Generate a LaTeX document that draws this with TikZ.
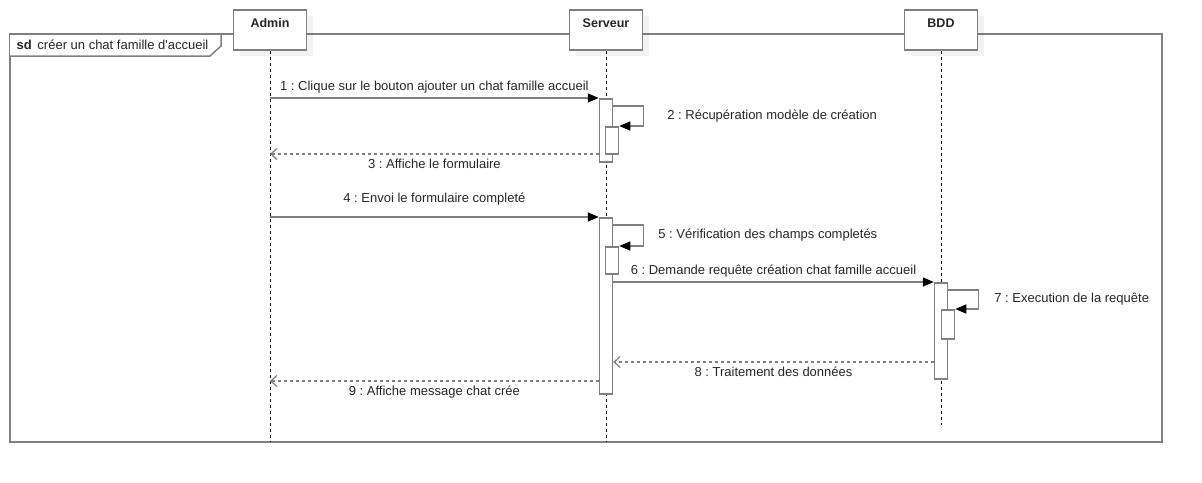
\documentclass[tikz,border=0pt]{standalone}
\usepackage{fontspec}
\setmainfont{Liberation Sans}
\usetikzlibrary{arrows.meta,shadows,positioning}
\frenchspacing

\definecolor{linegray}{HTML}{808080}

\begin{document}
\begin{tikzpicture}[x=1pt, y=-1pt, >=Stealth, font=\fontsize{13}{15}\selectfont,
    every node/.style={text=black!85},
    actor/.style={draw=linegray, line width=1.5pt, fill=white, anchor=north,
        minimum width=73pt, minimum height=40pt, inner ysep=4pt,
        text height=14pt, text depth=18pt, font=\fontsize{12.5}{14}\selectfont\bfseries,
        drop shadow={shadow xshift=6pt, shadow yshift=-6pt, fill=black, opacity=0.05}},
    act/.style={draw=linegray, line width=1.5pt, fill=white, anchor=north,
        minimum width=13pt, inner sep=0pt},
    lifeline/.style={black, line width=0.8pt, dash pattern=on 3pt off 3pt},
    msg/.style={linegray, line width=1.5pt, -{Triangle[color=black, length=11pt, width=9pt]}},
    ret/.style={linegray, line width=1.5pt, dash pattern=on 3pt off 3pt,
        -{Straight Barb[length=6pt, width=11pt, line width=1.2pt]}}]
    \useasboundingbox (0,0) rectangle (1202,482);

    % Cadre
    \draw[linegray, line width=1.5pt] (10,34) rectangle (1162,442);
    \draw[linegray, line width=1.5pt, fill=white] (10,34) -- (221,34) -- (221,46) -- (210,56) -- (10,56);
    \node[anchor=west] (sd) at (13,45) {\textbf{sd}\, créer un chat famille d\textquotesingle accueil};

    % Acteurs
    \node[actor] (admin) at (270,9) {Admin};
    \node[actor] (serveur) at (606,9) {Serveur};
    \node[actor] (bdd) at (941,9) {BDD};

    % Lignes de vie
    \coordinate (adminEnd) at (270,442);
    \coordinate (serveurEnd) at (606,442);
    \coordinate (bddEnd) at (941,425);
    \draw[lifeline] (admin.south) -- (adminEnd);
    \draw[lifeline] (serveur.south) -- (serveurEnd);
    \draw[lifeline] (bdd.south) -- (bddEnd);

    % Activations
    \node[act, minimum height=63pt] (s1) at (606,98) {};
    \node[act, minimum height=27pt] (s1b) at (612,126) {};
    \node[act, minimum height=176pt] (s2) at (606,217) {};
    \node[act, minimum height=27pt] (s2b) at (612,246) {};
    \node[act, minimum height=96pt] (b1) at (941,282) {};
    \node[act, minimum height=29pt] (b1b) at (948,309) {};

    % Messages
    \draw[msg] (s1.north west -| admin) -- (s1.north west)
        node[midway, above=1pt] {1 : Clique sur le bouton ajouter un chat famille accueil};
    \draw[msg] ([yshift=-8pt]s1.north east) -- ++(30,0) |- (s1b.north east)
        node[pos=0.25, right=20pt] {2 : Récupération modèle de création};
    \coordinate (m3) at ([yshift=-56pt]s1.north west);
    \draw[ret] (m3) -- (m3 -| admin) node[midway, below=1pt] {3 : Affiche le formulaire};

    \draw[msg] (s2.north west -| admin) -- (s2.north west)
        node[midway, above=8pt] {4 : Envoi le formulaire completé};
    \draw[msg] ([yshift=-8pt]s2.north east) -- ++(30,0) |- (s2b.north east)
        node[pos=0.25, right=11pt] {5 : Vérification des champs completés};
    \draw[msg] (b1.north west -| s2.east) -- (b1.north west)
        node[midway, above=1pt] {6 : Demande requête création chat famille accueil};
    \draw[msg] ([yshift=-8pt]b1.north east) -- ++(30,0) |- (b1b.north east)
        node[pos=0.25, right=12pt] {7 : Execution de la requête};
    \coordinate (m8) at ([yshift=-80pt]b1.north west);
    \draw[ret] (m8) -- (m8 -| s2.east) node[midway, below=1pt] {8 : Traitement des données};
    \coordinate (m9) at ([yshift=-164pt]s2.north west);
    \draw[ret] (m9) -- (m9 -| admin) node[midway, below=1pt] {9 : Affiche message chat crée};
\end{tikzpicture}
\end{document}
